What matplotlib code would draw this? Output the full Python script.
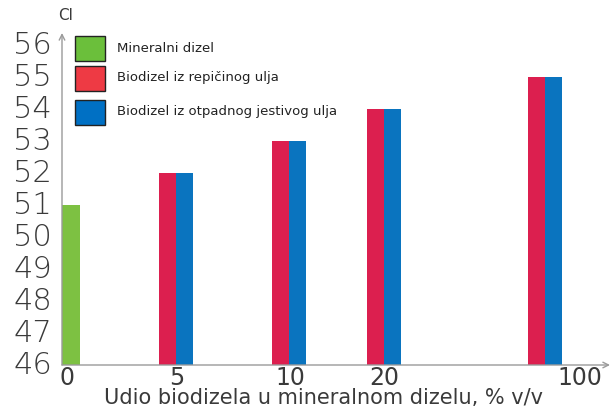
import matplotlib
matplotlib.use("Agg")
import matplotlib.pyplot as plt
import matplotlib.patches as patches

# data
categories = ["0", "5", "10", "20", "100"]
mineral = [51]
repicino = [52, 53, 54, 55]
otpadno = [52, 53, 54, 55]
legend_labels = ["Mineralni dizel", "Biodizel iz repičinog ulja", "Biodizel iz otpadnog jestivog ulja"]
y_ticks = [46, 47, 48, 49, 50, 51, 52, 53, 54, 55, 56]

# layout (pixel-like units along x)
W, H = 614, 408
BAR_W = 17
PAIR_X = [114, 227, 322, 483]
LABEL_X = [5, 115, 228, 322, 518]
GREEN_BAR = "#7dc142"
RED_BAR = "#dc1f4f"
BLUE_BAR = "#0a74bf"
TXT = "#3a3a3a"
AXIS = "#9a9a9a"
PX = 32  # pixels per CI unit

fig = plt.figure(figsize=(W / 100, H / 100), dpi=100)
ax = fig.add_axes([62 / W, 43 / H, 548 / W, 332 / H])
ax.set_xlim(0, 548)
ax.set_ylim(46, 46 + 332 / PX)
ax.axis("off")

base = 46
ax.bar([0], [v - base for v in mineral], bottom=base, width=BAR_W + 1, align="edge",
       color=GREEN_BAR, linewidth=0)
ax.bar([x - BAR_W for x in PAIR_X], [v - base for v in repicino], bottom=base,
       width=BAR_W, align="edge", color=RED_BAR, linewidth=0)
ax.bar(PAIR_X, [v - base for v in otpadno], bottom=base,
       width=BAR_W, align="edge", color=BLUE_BAR, linewidth=0)

# axes with arrows
ax.annotate("", xy=(548, base), xytext=(0, base),
            arrowprops=dict(arrowstyle="->", color=AXIS, lw=1.0, shrinkA=0, shrinkB=0),
            annotation_clip=False)
ax.annotate("", xy=(0, 46 + 332 / PX), xytext=(0, base),
            arrowprops=dict(arrowstyle="->", color=AXIS, lw=1.0, shrinkA=0, shrinkB=0),
            annotation_clip=False)

# tick labels
for t in y_ticks:
    ax.text(-10, t, str(t), ha="right", va="center", fontsize=22, color=TXT,
            family="DejaVu Sans", fontweight="light")
for x, lab in zip(LABEL_X, categories):
    ax.text(x, base - 1 / PX, lab, ha="center", va="top", fontsize=17, color=TXT,
            family="DejaVu Sans")
ax.text(262, base - 23 / PX, "Udio biodizela u mineralnom dizelu, % v/v", ha="center", va="top",
        fontsize=15, color=TXT, family="DejaVu Sans")
fig.text(66 / W, 1 - 15 / H, "Cl", ha="center", va="center", fontsize=11, color=TXT)

# legend
legend_colors = ["#6bbf3b", "#ee3a44", "#0070c4"]
legend_y = [36, 66, 100]
for y, c, lab in zip(legend_y, legend_colors, legend_labels):
    fig.add_artist(patches.Rectangle((75 / W, 1 - (y + 25) / H), 30 / W, 25 / H,
                                     facecolor=c, edgecolor="#222222", linewidth=1,
                                     transform=fig.transFigure))
    fig.text(117 / W, 1 - (y + 12) / H, lab, ha="left", va="center", fontsize=9.5,
             color="#222222")

fig.savefig("out.png", dpi=100)
